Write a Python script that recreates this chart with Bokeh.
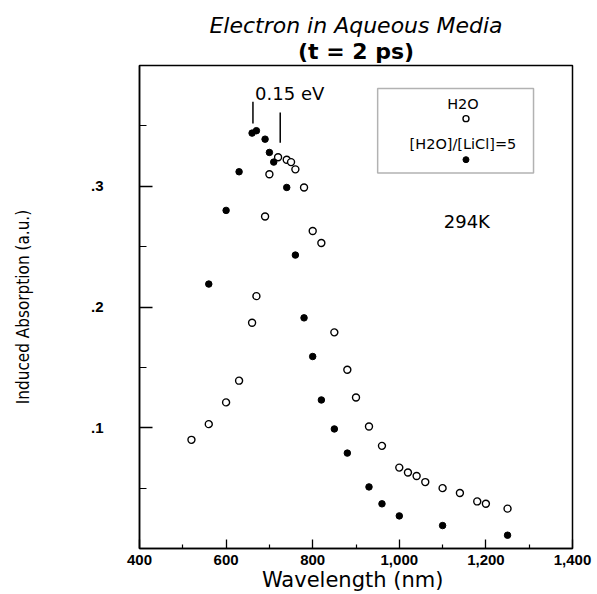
from bokeh.plotting import figure
from bokeh.models import Range1d, FixedTicker, Label, BoxAnnotation, Title
from bokeh.embed import file_html
from bokeh.resources import INLINE

# ---- data ----
h2o_wl = [520, 560, 600, 630, 660, 670, 690, 700, 720, 740, 750, 760, 780, 800, 820,
          850, 880, 900, 930, 960, 1000, 1020, 1040, 1060, 1100, 1140, 1180, 1200, 1250]
h2o_abs = [0.090, 0.103, 0.121, 0.139, 0.187, 0.209, 0.275, 0.310, 0.324, 0.322, 0.320,
           0.314, 0.299, 0.263, 0.253, 0.179, 0.148, 0.125, 0.101, 0.085, 0.067, 0.063,
           0.060, 0.055, 0.050, 0.046, 0.039, 0.037, 0.033]
licl_wl = [560, 600, 630, 660, 670, 690, 700, 710, 740, 760, 780, 800, 820, 850, 880,
           930, 960, 1000, 1100, 1250]
licl_abs = [0.219, 0.280, 0.312, 0.344, 0.346, 0.339, 0.328, 0.320, 0.299, 0.243, 0.191,
            0.159, 0.123, 0.099, 0.079, 0.051, 0.037, 0.027, 0.019, 0.011]

x_ticks = [400, 600, 800, 1000, 1200, 1400]
x_tick_labels = ["400", "600", "800", "1,000", "1,200", "1,400"]
x_minor = [500, 700, 900, 1100, 1300]
y_ticks = [0.1, 0.2, 0.3]
y_tick_labels = [".1", ".2", ".3"]
y_minor = [0.05, 0.15, 0.25, 0.35]

title_text = "Electron in Aqueous Media"
subtitle_text = "(t = 2 ps)"
x_label = "Wavelength  (nm)"
y_label = "Induced Absorption (a.u.)"
legend_labels = ["H2O", "[H2O]/[LiCl]=5"]
temp_label = "294K"
gap_label = "0.15 eV"

FONT = "DejaVu Sans"
TICKFONT = "Liberation Sans"
NARROW = "DejaVu Sans Condensed"

p = figure(width=597, height=594, output_backend="svg", toolbar_location=None,
           title=None,
           x_range=Range1d(400, 1400), y_range=Range1d(0, 0.40),
           min_border_left=139, min_border_right=25, min_border_top=65,
           min_border_bottom=45)
p.background_fill_color = "white"
p.border_fill_color = "white"
p.outline_line_color = "black"
p.outline_line_width = 1.5
p.grid.visible = False

p.add_layout(Title(text=subtitle_text, align="center", text_font=FONT,
                   text_font_size="22px", text_font_style="bold",
                   text_color="black", standoff=3), "above")
p.add_layout(Title(text=title_text, align="center", text_font=FONT,
                   text_font_size="22px", text_font_style="italic",
                   text_color="black", standoff=-5), "above")

xa = p.xaxis[0]
xa.ticker = FixedTicker(ticks=x_ticks, minor_ticks=x_minor)
xa.major_label_overrides = dict(zip(x_ticks, x_tick_labels))
xa.major_tick_in = 9
xa.major_tick_out = 0
xa.minor_tick_in = 4
xa.minor_tick_out = 0
xa.axis_line_width = 1.5
xa.major_tick_line_width = 1.3
xa.minor_tick_line_width = 1.2
xa.major_label_text_font = TICKFONT
xa.major_label_text_font_size = "15px"
xa.major_label_text_font_style = "bold"
xa.major_label_text_color = "black"
xa.major_label_standoff = 6
xa.axis_label = x_label
xa.axis_label_text_font = FONT
xa.axis_label_text_font_size = "21px"
xa.axis_label_text_font_style = "normal"
xa.axis_label_text_color = "black"
xa.axis_label_standoff = 0

ya = p.yaxis[0]
ya.ticker = FixedTicker(ticks=y_ticks, minor_ticks=y_minor)
ya.major_label_overrides = dict(zip(y_ticks, y_tick_labels))
ya.major_tick_in = 13
ya.major_tick_out = 0
ya.minor_tick_in = 7
ya.minor_tick_out = 0
ya.axis_line_width = 1.5
ya.major_tick_line_width = 1.3
ya.minor_tick_line_width = 1.2
ya.major_label_text_font = TICKFONT
ya.major_label_text_font_size = "15px"
ya.major_label_text_font_style = "bold"
ya.major_label_text_color = "black"
ya.major_label_standoff = 36
ya.axis_label = y_label
ya.axis_label_text_font = NARROW
ya.axis_label_text_font_size = "17px"
ya.axis_label_text_font_style = "normal"
ya.axis_label_text_color = "black"
ya.axis_label_standoff = 55

# data
p.scatter(h2o_wl, h2o_abs, marker="circle", size=7, fill_color="white",
          line_color="black", line_width=1.4)
p.scatter(licl_wl, licl_abs, marker="circle", size=6.5, fill_color="black",
          line_color="black", line_width=1)

# legend box drawn by hand (label above symbol)
p.add_layout(BoxAnnotation(left=950, right=1310, bottom=0.311, top=0.381,
                           fill_alpha=0, line_color="black", line_width=1.5))
p.add_layout(Label(x=1147, y=0.368, text=legend_labels[0], text_align="center",
                   text_baseline="middle", text_font=FONT, text_font_size="14.5px",
                   text_color="black"))
p.add_layout(Label(x=1147, y=0.335, text=legend_labels[1], text_align="center",
                   text_baseline="middle", text_font=FONT, text_font_size="14.5px",
                   text_color="black"))
p.scatter([1154], [0.356], marker="circle", size=6, fill_color="white",
          line_color="black", line_width=1.4)
p.scatter([1154], [0.322], marker="circle", size=6, fill_color="black",
          line_color="black")

p.add_layout(Label(x=1156, y=0.271, text=temp_label, text_align="center",
                   text_baseline="middle", text_font=FONT, text_font_size="18px",
                   text_color="black"))

# 0.15 eV marker lines
p.segment(x0=[662, 725], y0=[0.370, 0.361], x1=[662, 725], y1=[0.352, 0.336],
          line_color="black", line_width=1.5)
p.add_layout(Label(x=667, y=0.377, text=gap_label, text_align="left",
                   text_baseline="middle", text_font=FONT, text_font_size="18px",
                   text_color="black"))

open("out.html", "w").write(file_html(p, INLINE))
